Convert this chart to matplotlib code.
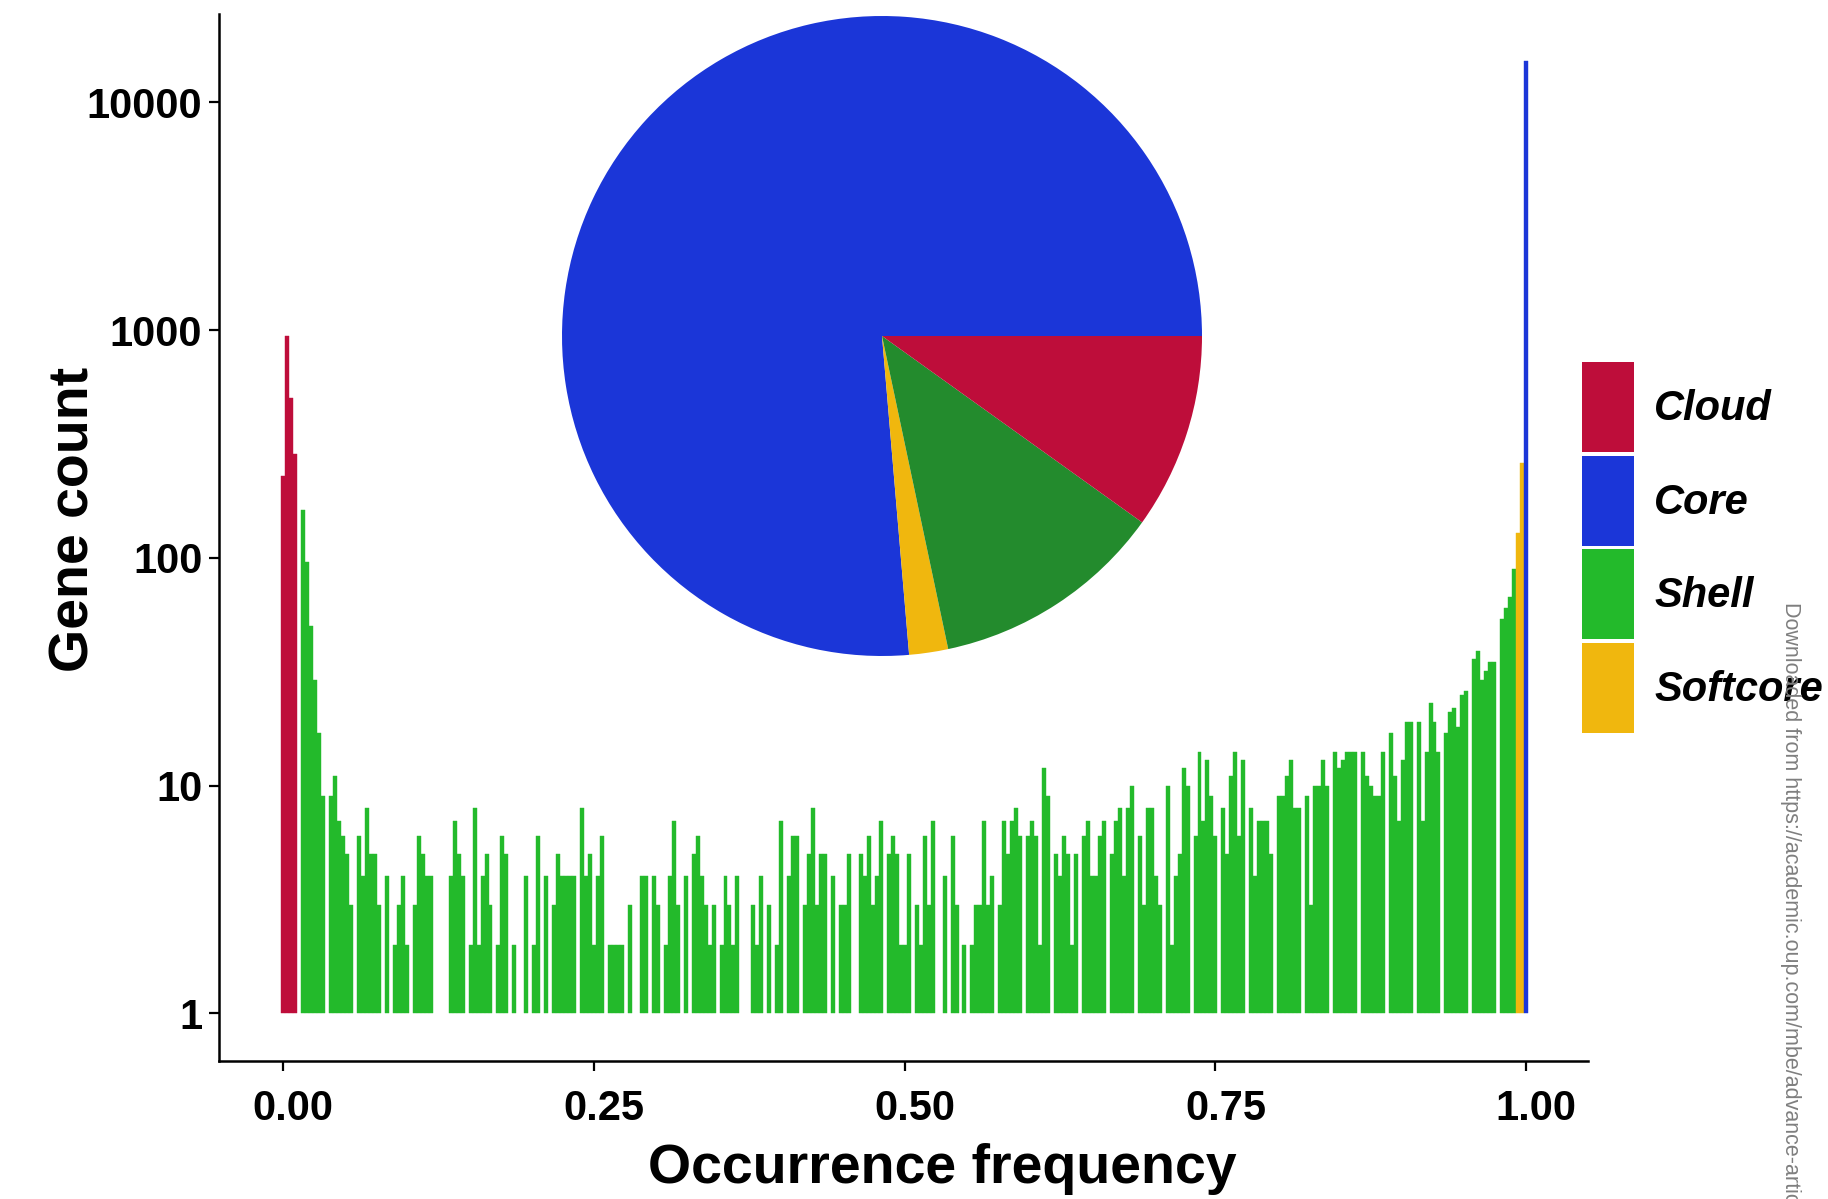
#!/usr/bin/env python3
"""Pangenome gene frequency histogram with a category pie inset."""

import matplotlib

matplotlib.use("Agg")

import matplotlib.pyplot as plt
import matplotlib.transforms as mtransforms
import numpy as np
from matplotlib.patches import Rectangle

W, H = 1828, 1199

CATEGORIES = ["Cloud", "Core", "Shell", "Softcore"]
COLORS = {
    "Cloud": "#BE0D3A",
    "Core": "#1B36D8",
    "Shell": "#23BA2B",
    "Softcore": "#F0B70E",
}
PIE_SHELL_COLOR = "#238B2D"

# gene counts per occurrence-frequency bin, left to right
CLOUD_COUNTS = [228, 937, 505, 287]
SHELL_COUNTS = [
    0, 162, 96, 50, 29, 17, 9,
    0, 9, 11, 7, 6, 5, 3,
    0, 6, 4, 8, 5, 5, 3,
    0, 4, 0, 2, 3, 4, 2,
    0, 3, 6, 5, 4, 4, 0,
    0, 0, 0, 4, 7, 5, 4,
    0, 2, 8, 2, 4, 5, 3,
    0, 2, 6, 5, 0, 2, 0,
    0, 4, 0, 2, 6, 0, 4,
    0, 3, 5, 4, 4, 4, 4,
    0, 8, 4, 5, 2, 4, 6,
    0, 2, 2, 2, 2, 0, 3,
    0, 0, 4, 4, 0, 4, 3,
    0, 2, 4, 7, 3, 0, 4,
    0, 5, 6, 4, 3, 2, 3,
    0, 2, 4, 3, 2, 4, 0,
    0, 0, 3, 2, 4, 0, 3,
    0, 2, 7, 0, 4, 6, 6,
    0, 3, 5, 8, 3, 5, 5,
    0, 4, 0, 3, 3, 5, 0,
    0, 5, 4, 6, 3, 4, 7,
    0, 5, 6, 5, 2, 2, 5,
    0, 3, 2, 6, 3, 7, 0,
    0, 4, 0, 6, 3, 0, 2,
    0, 2, 3, 3, 7, 3, 4,
    0, 3, 7, 5, 7, 8, 6,
    0, 6, 7, 6, 2, 12, 9,
    0, 5, 4, 6, 5, 2, 5,
    0, 6, 7, 4, 4, 6, 7,
    0, 5, 7, 8, 4, 8, 10,
    0, 6, 3, 8, 8, 4, 3,
    0, 10, 2, 4, 5, 12, 10,
    0, 6, 14, 7, 13, 9, 6,
    0, 8, 5, 11, 14, 6, 13,
    0, 8, 4, 7, 7, 7, 5,
    0, 9, 9, 11, 13, 8, 8,
    0, 9, 3, 10, 10, 13, 10,
    0, 14, 12, 13, 14, 14, 14,
    0, 14, 11, 10, 9, 9, 14,
    0, 17, 11, 7, 13, 19, 19,
    0, 19, 7, 14, 23, 19, 14,
    0, 17, 21, 22, 18, 25, 26,
    0, 36, 39, 29, 32, 35, 35,
    0, 54, 60, 67, 89,
]
SOFTCORE_COUNTS = [128, 261]
CORE_COUNTS = [15100]

X_TICKS = [0.0, 0.25, 0.5, 0.75, 1.0]
X_TICK_LABELS = ["0.00", "0.25", "0.50", "0.75", "1.00"]
Y_TICKS = [1, 10, 100, 1000, 10000]
Y_TICK_LABELS = ["1", "10", "100", "1000", "10000"]

X_LABEL = "Occurrence frequency"
Y_LABEL = "Gene count"
SOURCE_NOTE = "Downloaded from https://academic.oup.com/mbe/advance-artic"


def px_box(left, top, width, height):
    """Figure-fraction rectangle from pixel coordinates (origin top-left)."""
    return [left / W, 1 - (top + height) / H, width / W, height / H]


def main() -> None:
    plt.rcParams["font.family"] = ["Liberation Sans", "DejaVu Sans"]
    fig = plt.figure(figsize=(W / 100, H / 100), dpi=100)
    ax = fig.add_axes(px_box(219, 14, 1369, 1047))

    segments = [
        ("Cloud", CLOUD_COUNTS),
        ("Shell", SHELL_COUNTS),
        ("Softcore", SOFTCORE_COUNTS),
        ("Core", CORE_COUNTS),
    ]
    n_bins = sum(len(c) for _, c in segments)
    width = 1.0 / (n_bins - 1)
    centers = np.arange(n_bins) * width

    start = 0
    for name, counts in segments:
        values = np.asarray(counts, dtype=float)
        xs = centers[start:start + len(values)]
        keep = values > 1
        ax.bar(xs[keep], values[keep] - 1, bottom=1, width=width,
               color=COLORS[name], edgecolor=COLORS[name], linewidth=0.3)
        start += len(values)

    ax.set_yscale("log")
    ax.set_ylim(0.618, 24400)
    ax.set_xlim(-0.0518, 1.0498)
    ax.set_yticks(Y_TICKS)
    ax.set_yticklabels(Y_TICK_LABELS)
    ax.set_xticks(X_TICKS)
    ax.set_xticklabels(X_TICK_LABELS)
    ax.minorticks_off()
    ax.tick_params(axis="both", length=7, width=1.6, color="black", labelsize=30)
    ax.tick_params(axis="x", pad=13)
    ax.tick_params(axis="y", pad=5)
    for lab in ax.get_xticklabels() + ax.get_yticklabels():
        lab.set_fontweight("bold")
    # x tick labels sit a little right of their ticks
    shift = mtransforms.ScaledTranslation(10 / 100, 0, fig.dpi_scale_trans)
    for lab in ax.get_xticklabels():
        lab.set_transform(lab.get_transform() + shift)
    for side in ("top", "right"):
        ax.spines[side].set_visible(False)
    for side in ("left", "bottom"):
        ax.spines[side].set_linewidth(1.8)

    fig.text(75 / W, 1 - 519 / H, Y_LABEL, rotation=90, ha="center", va="center",
             fontsize=40, fontweight="bold")
    fig.text(942 / W, 1 - 1183 / H, X_LABEL, ha="center", va="baseline",
             fontsize=40, fontweight="bold")

    # pie of total genes per category
    pie_ax = fig.add_axes(px_box(882 - 320, 336 - 320, 640, 640))
    pie_sizes = [sum(CORE_COUNTS), sum(SOFTCORE_COUNTS), sum(SHELL_COUNTS), sum(CLOUD_COUNTS)]
    pie_colors = [COLORS["Core"], COLORS["Softcore"], PIE_SHELL_COLOR, COLORS["Cloud"]]
    pie_ax.pie(pie_sizes, colors=pie_colors, startangle=0, counterclock=True,
               radius=1, wedgeprops={"linewidth": 0})
    pie_ax.set_xlim(-1, 1)
    pie_ax.set_ylim(-1, 1)
    pie_ax.set_aspect("equal")
    pie_ax.axis("off")

    # legend keys
    for i, name in enumerate(CATEGORIES):
        top = 362 + i * 93.7
        fig.add_artist(Rectangle((1582 / W, 1 - (top + 90) / H), 52 / W, 90 / H,
                                 transform=fig.transFigure, facecolor=COLORS[name],
                                 edgecolor="none"))
        fig.text(1654 / W, 1 - (420 + i * 93.7) / H, name, ha="left", va="baseline",
                 fontsize=30, fontweight="bold", fontstyle="italic")

    fig.text(1791 / W, 1 - 602 / H, SOURCE_NOTE, rotation=270, ha="center", va="top",
             fontsize=15.5, color="#7f7f7f")

    fig.savefig("out.png", dpi=100)
    plt.close(fig)


if __name__ == "__main__":
    main()
